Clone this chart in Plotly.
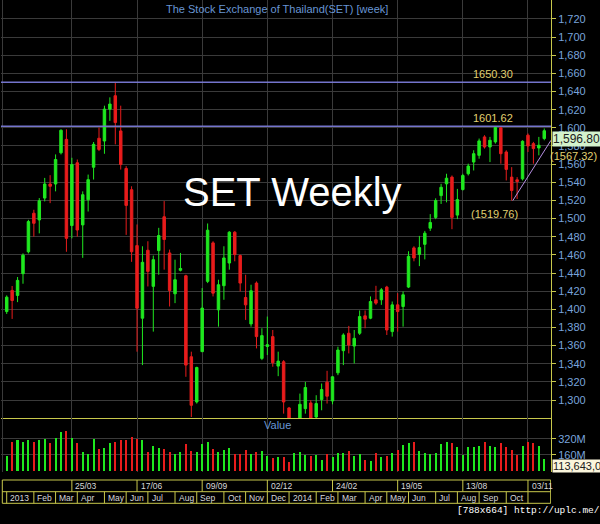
import plotly.graph_objects as go
import pandas as pd

# ---------------- data ----------------
week0 = "2012-12-31"
open_ = [1397.5, 1420.8, 1415.3, 1439.3, 1463.4, 1505.9, 1498.5, 1522.6, 1538.1, 1538.1,
         1572.5, 1587.3, 1492.3, 1561.5, 1493.0, 1520.7, 1556.6, 1588.5, 1585.5, 1620.6,
         1635.4, 1596.6, 1555.2, 1531.8, 1470.2, 1390.2, 1465.1, 1425.3, 1464.7, 1502.0,
         1462.1, 1417.1, 1443.0, 1437.0, 1347.7, 1297.9, 1353.3, 1430.8, 1473.2, 1399.4,
         1426.0, 1451.0, 1485.0, 1459.2, 1413.0, 1383.9, 1428.9, 1345.9, 1359.0, 1369.9,
         1337.4, 1342.2, 1291.3, 1262.0, 1268.0, 1290.5, 1296.8, 1281.3, 1300.5, 1319.7,
         1299.0, 1330.0, 1354.4, 1373.6, 1359.5, 1373.6, 1392.8, 1390.2, 1410.5, 1410.5,
         1424.5, 1375.4, 1404.9, 1403.1, 1424.5, 1467.7, 1460.5, 1471.6, 1489.4, 1501.3,
         1525.3, 1538.3, 1545.7, 1503.8, 1532.0, 1549.4, 1562.3, 1569.7, 1590.0, 1578.9,
         1584.5, 1600.0, 1573.4, 1545.7, 1542.7, 1543.8, 1591.9, 1582.6, 1577.8, 1588.2]
high = [1415.3, 1425.7, 1435.6, 1461.6, 1498.6, 1509.7, 1522.6, 1544.8, 1547.8, 1570.7,
        1598.4, 1598.4, 1567.0, 1565.1, 1530.0, 1548.5, 1584.4, 1600.3, 1624.4, 1633.6,
        1650.3, 1624.4, 1557.8, 1535.6, 1493.5, 1469.5, 1475.0, 1459.2, 1489.8, 1519.3,
        1465.8, 1454.7, 1462.1, 1438.1, 1353.3, 1336.7, 1423.4, 1494.6, 1475.0, 1432.6,
        1469.5, 1486.1, 1486.1, 1460.3, 1438.1, 1427.1, 1430.7, 1379.1, 1392.0, 1377.2,
        1353.3, 1344.0, 1292.4, 1277.0, 1307.1, 1320.0, 1299.8, 1305.3, 1318.2, 1332.2,
        1326.3, 1358.8, 1373.6, 1381.7, 1377.2, 1398.7, 1398.7, 1414.2, 1425.9, 1423.4,
        1425.9, 1408.6, 1417.8, 1419.7, 1464.0, 1469.5, 1480.9, 1486.4, 1504.9, 1522.3,
        1538.3, 1549.4, 1547.5, 1532.7, 1549.4, 1560.5, 1575.3, 1588.2, 1591.9, 1590.0,
        1601.62, 1601.62, 1575.3, 1556.7, 1545.7, 1586.3, 1593.8, 1584.5, 1590.0, 1599.3]
low = [1394.9, 1389.4, 1407.9, 1428.2, 1461.6, 1480.1, 1483.7, 1518.9, 1517.0, 1530.0,
       1570.7, 1463.4, 1478.2, 1480.1, 1456.7, 1507.8, 1543.0, 1574.4, 1571.4, 1607.7,
       1581.8, 1554.0, 1482.0, 1452.3, 1353.3, 1338.5, 1425.2, 1375.4, 1438.1, 1443.7,
       1403.1, 1406.8, 1441.8, 1325.6, 1281.3, 1296.1, 1353.3, 1428.9, 1414.2, 1380.9,
       1410.5, 1443.7, 1452.9, 1419.7, 1388.3, 1380.9, 1356.9, 1344.0, 1349.6, 1336.7,
       1326.3, 1285.0, 1262.0, 1240.0, 1262.0, 1285.0, 1276.0, 1279.5, 1288.7, 1296.1,
       1295.3, 1327.4, 1338.5, 1351.4, 1340.3, 1371.7, 1379.1, 1389.1, 1404.9, 1404.9,
       1371.7, 1369.9, 1375.4, 1380.9, 1423.4, 1452.9, 1447.6, 1455.0, 1486.4, 1499.4,
       1516.1, 1517.9, 1488.3, 1499.4, 1530.9, 1547.5, 1553.0, 1566.0, 1577.1, 1562.3,
       1582.6, 1560.5, 1542.0, 1519.76, 1521.6, 1542.0, 1573.4, 1560.5, 1569.7, 1586.3]
close = [1413.4, 1409.7, 1431.9, 1459.7, 1496.7, 1494.8, 1519.6, 1538.1, 1535.6, 1565.1,
         1597.3, 1478.2, 1559.6, 1487.4, 1526.3, 1542.9, 1581.8, 1576.2, 1620.6, 1626.2,
         1605.8, 1559.6, 1514.5, 1463.4, 1401.2, 1451.8, 1441.8, 1454.7, 1481.3, 1476.9,
         1420.8, 1432.6, 1445.0, 1338.5, 1294.2, 1335.9, 1401.3, 1487.2, 1417.8, 1427.1,
         1456.6, 1485.0, 1460.3, 1428.9, 1404.9, 1420.4, 1369.9, 1371.0, 1361.0, 1341.1,
         1342.9, 1297.9, 1270.0, 1272.0, 1295.3, 1313.8, 1279.5, 1296.1, 1311.6, 1304.2,
         1325.6, 1355.1, 1371.7, 1360.6, 1368.0, 1392.0, 1389.1, 1408.6, 1406.8, 1421.5,
         1377.2, 1404.9, 1397.5, 1416.0, 1458.4, 1456.6, 1468.0, 1483.9, 1495.7, 1519.8,
         1534.5, 1544.5, 1501.3, 1520.9, 1547.5, 1557.9, 1571.5, 1585.6, 1578.9, 1586.3,
         1600.5, 1571.5, 1554.2, 1530.9, 1540.8, 1585.2, 1580.0, 1577.1, 1580.8, 1596.8]
volume_m = [150, 290, 307, 283, 307, 290, 307, 317, 273, 323,
            383, 400, 323, 277, 183, 167, 317, 217, 227, 277,
            290, 307, 310, 333, 317, 307, 190, 250, 227, 217,
            183, 167, 183, 267, 200, 183, 263, 283, 217, 190,
            210, 223, 163, 163, 207, 167, 183, 197, 150, 123,
            133, 133, 83, 177, 183, 160, 143, 157, 110, 167,
            133, 177, 177, 193, 150, 167, 107, 100, 177, 133,
            143, 177, 210, 257, 277, 283, 193, 177, 167, 173,
            267, 283, 277, 233, 157, 233, 233, 250, 290, 250,
            233, 277, 233, 210, 160, 250, 290, 277, 250, 113.6]
price_ticks = list(range(1300, 1721, 20))
volume_ticks = [160, 320]
volume_ticklabels = ["160M", "320M"]
row1_idx = [12, 24, 36, 48, 60, 72, 84, 96]
row1_labels = ["25/03", "17/06", "09/09", "02/12", "24/02", "19/05", "13/08", "03/11"]
month_idx = [0, 5, 9, 13, 18, 22, 26, 31, 35, 40, 44, 48, 52, 57, 61, 66, 70, 74, 79, 83, 87, 92, 96]
month_labels = ["2013", "Feb", "Mar", "Apr", "May", "Jun", "Jul", "Aug", "Sep", "Oct", "Nov", "Dec",
                "2014", "Feb", "Mar", "Apr", "May", "Jun", "Jul", "Aug", "Sep", "Oct", ""]
level_high = 1650.30
level_mid = 1601.62
swing_low = 1519.76
trend_label = 1567.32
last_volume_text = "113,643,000"

# ---------------- helpers ----------------
base = pd.Timestamp(week0)


def wk(f):
    return (base + pd.Timedelta(days=7 * f)).strftime("%Y-%m-%d %H:%M:%S")


n = len(close)
dates = [wk(i) for i in range(n)]
GREEN = "#1fe81f"
RED = "#e81c1c"
YEL = "#c8c84c"
GRID = "#3a3a3a"
BLUE_TXT = "#78a4dc"
LBL_YEL = "#e0d070"
FONT = "Liberation Sans, Arial, sans-serif"
bar_colors = [GREEN if c >= o else RED for o, c in zip(open_, close)]

x_lo, x_hi = -1.05, 100.24
H_PLOT = 472.0  # plot area height in px (t=0)


def py(px):
    return 1 - px / H_PLOT


def pxx(px):
    return (px - 1) / 550


fig = go.Figure()
fig.add_trace(go.Candlestick(
    x=dates, open=open_, high=high, low=low, close=close,
    increasing=dict(line=dict(color=GREEN, width=1), fillcolor=GREEN),
    decreasing=dict(line=dict(color=RED, width=1), fillcolor=RED),
    whiskerwidth=0, showlegend=False, hoverinfo="skip",
    xaxis="x", yaxis="y"))
fig.add_trace(go.Bar(
    x=dates, y=volume_m, marker=dict(color=bar_colors, line=dict(width=0)),
    width=2 / 5.43 * 7 * 86400000, showlegend=False, hoverinfo="skip",
    xaxis="x", yaxis="y2"))

shapes = []
for lv in (level_high, level_mid):
    shapes.append(dict(type="line", xref="x", yref="y", x0=wk(x_lo), x1=wk(x_hi), y0=lv, y1=lv,
                       line=dict(color="#7474cc", width=1.5), layer="above"))
shapes.append(dict(type="line", xref="x", yref="y", x0=wk(93.2), y0=swing_low, x1=wk(100.24), y1=1586.3,
                   line=dict(color="#b48ee0", width=1), layer="above"))
y_top, y_mid, y_bot = py(480), py(491.7), py(503.3)
xl, xr = wk(-0.81), wk(100.18)
for yy in (y_top, y_mid, y_bot):
    shapes.append(dict(type="line", xref="x", yref="paper", x0=xl, x1=xr, y0=yy, y1=yy,
                       line=dict(color=YEL, width=1)))
for xx in (xl, xr):
    shapes.append(dict(type="line", xref="x", yref="paper", x0=xx, x1=xx, y0=y_bot, y1=y_top,
                       line=dict(color=YEL, width=1)))
for i in row1_idx:
    shapes.append(dict(type="line", xref="x", yref="paper", x0=wk(i), x1=wk(i), y0=y_mid, y1=y_top,
                       line=dict(color=YEL, width=1)))
for i in month_idx:
    shapes.append(dict(type="line", xref="x", yref="paper", x0=wk(i), x1=wk(i), y0=y_bot, y1=y_mid,
                       line=dict(color=YEL, width=1)))

ann = []


def add(**kw):
    kw.setdefault("showarrow", False)
    kw.setdefault("xanchor", "center")
    kw.setdefault("yanchor", "middle")
    ann.append(kw)


add(text="The Stock Exchange of Thailand(SET) [week]", xref="paper", yref="paper",
    x=pxx(277), y=py(9), font=dict(family=FONT, size=11, color="#6896d4"))
add(text="SET Weekly", xref="paper", yref="paper", x=pxx(292), y=py(192),
    font=dict(family=FONT, size=40, color="white"))
add(text="Value", xref="paper", yref="paper", x=pxx(277), y=py(425),
    font=dict(family=FONT, size=11, color="#6896d4"))
add(text=f"{level_high:.2f}", xref="x", yref="y", x=wk(89.56), y=level_high,
    yanchor="bottom", font=dict(family=FONT, size=11, color=LBL_YEL))
add(text=f"{level_mid:.2f}", xref="x", yref="y", x=wk(89.56), y=level_mid,
    yanchor="bottom", font=dict(family=FONT, size=11, color=LBL_YEL))
add(text=f"({swing_low:.2f})", xref="x", yref="y", x=wk(89.9), y=1505,
    font=dict(family=FONT, size=11, color=LBL_YEL))
add(text=f"({trend_label:.2f})", xref="paper", yref="y", x=pxx(548), y=1569,
    xanchor="left", font=dict(family=FONT, size=11, color=LBL_YEL))
add(text=f"{close[-1]:,.2f}", xref="paper", yref="y", x=1.0, xshift=1, y=close[-1],
    xanchor="left", yanchor="top", bgcolor="#d4f2cc", borderpad=0,
    font=dict(family=FONT, size=12, color="#202020"))
add(text=last_volume_text, xref="paper", yref="y2", x=1.0, xshift=1, y=volume_m[-1],
    xanchor="left", yanchor="top", bgcolor="#fbf5dc", borderpad=0,
    font=dict(family=FONT, size=11, color="#202020"))
for i, t in zip(row1_idx, row1_labels):
    add(text=t, xref="x", yref="paper", x=wk(i + 0.3), y=(y_top + y_mid) / 2,
        xanchor="left", font=dict(family=FONT, size=8.5, color="#d8d8d8"))
for i, t in zip(month_idx, month_labels):
    if t:
        add(text=t, xref="x", yref="paper", x=wk(i + 0.3), y=(y_mid + y_bot) / 2,
            xanchor="left", font=dict(family=FONT, size=8.5, color="#d8d8d8"))
add(text="[788x664] http://uplc.me/", xref="paper", yref="paper", x=pxx(455),
    y=py(510), xanchor="left", font=dict(family="Liberation Mono, monospace", size=9.5, color="white"))

fig.update_layout(
    width=600, height=524,
    margin=dict(l=1, r=49, t=0, b=52),
    paper_bgcolor="black", plot_bgcolor="black",
    boxgap=0.35,
    bargap=0,
    showlegend=False,
    xaxis=dict(type="date", range=[wk(x_lo), wk(x_hi)], anchor="y",
               tickmode="array", tickvals=[wk(-0.75)] + [wk(i) for i in row1_idx],
               showticklabels=False, ticks="", showgrid=True, gridcolor=GRID, gridwidth=1,
               showline=True, linecolor=YEL, linewidth=1, zeroline=False,
               rangeslider=dict(visible=False), fixedrange=True),
    yaxis=dict(domain=[54 / H_PLOT, 1], range=[1280.2, 1740.9], side="right", anchor="x",
               tickmode="array", tickvals=price_ticks, tickformat=",d",
               showgrid=True, gridcolor=GRID, gridwidth=1, zeroline=False,
               showline=True, linecolor=YEL, linewidth=1,
               ticks="outside", ticklen=4, tickcolor=YEL,
               tickfont=dict(family=FONT, size=11, color=BLUE_TXT)),
    yaxis2=dict(domain=[0, 54 / H_PLOT], range=[-13, 527], side="right", anchor="x",
                tickmode="array", tickvals=volume_ticks, ticktext=volume_ticklabels,
                showgrid=True, gridcolor=GRID, gridwidth=1, zeroline=False,
                showline=True, linecolor=YEL, linewidth=1,
                ticks="outside", ticklen=4, tickcolor=YEL,
                tickfont=dict(family=FONT, size=11, color=BLUE_TXT)),
    shapes=shapes,
    annotations=ann,
)

fig.write_html("out.html", config={"displayModeBar": False},
               post_script="document.body.style.margin='0px';document.body.style.background='black';")
